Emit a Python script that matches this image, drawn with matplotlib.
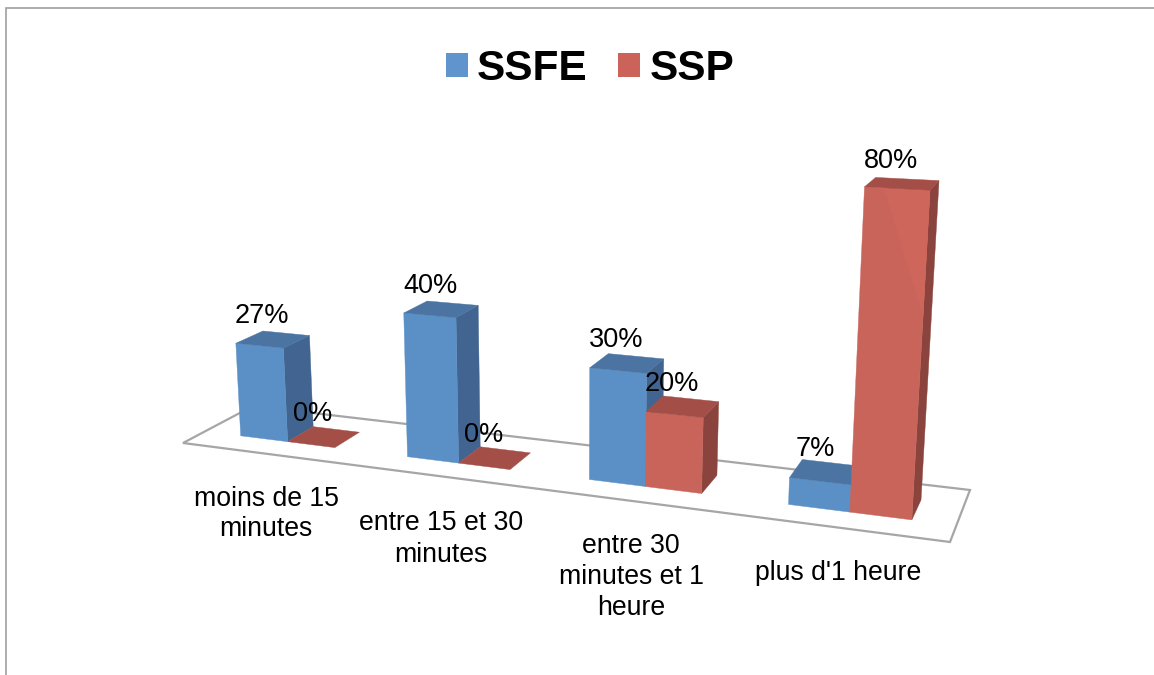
import numpy as np, matplotlib
matplotlib.use('Agg')
import matplotlib.pyplot as plt
from matplotlib.patches import Polygon, Patch
plt.rcParams['font.family'] = ['Liberation Sans', 'DejaVu Sans']

categories = ["moins de 15\nminutes", "entre 15 et 30\nminutes", "entre 30\nminutes et 1\nheure", "plus d'1 heure"]
ssfe = [27, 40, 30, 7]
ssp = [0, 0, 20, 80]
series_names = ["SSFE", "SSP"]

# camera: (category axis, depth, percent, 1) -> pixels
CAM = np.array([[151.794849, 88.8302022, -0.309803771, 183.0],
                [1.95453496, -6.78236321, -3.65736211, 443.0],
                [-0.0420580536, 0.0744276768, -0.000543630833, 1.0]])
U0, U1, U2 = 0.225, 0.515, 0.80   # bar edges within a category
V0, V1 = 0.30, 0.69               # bar depth on the floor
LABEL_POS = [(266, 514), (441, 539), (631, 577), (838, 573)]
VALUE_OFFSET = (-11, -23)

COL = {"SSFE": ("#5B90C7", "#416490", "#4C74A2"),
       "SSP": ("#C9645B", "#8B443D", "#A34F48")}
LEGEND_COL = {"SSFE": "#5F94CC", "SSP": "#CB635B"}


def project(u, v, h):
    q = CAM @ np.array([u, v, h, 1.0])
    return q[0] / q[2], q[1] / q[2]


fig = plt.figure(figsize=(11.54, 6.75), dpi=100)
ax = fig.add_axes([0, 0, 1, 1])
ax.set_xlim(0, 1154)
ax.set_ylim(675, 0)
ax.axis('off')

# chart frame (only top and left are visible)
ax.plot([5.5, 5.5, 1154], [675, 8, 8], color="#A0A0A0", lw=1.2, solid_joinstyle='miter')

# floor
floor = [project(0, 0, 0), project(4, 0, 0), project(4, 1, 0), project(0, 1, 0)]
ax.add_patch(Polygon(floor, closed=True, fc='white', ec='#A6A6A6', lw=1.6, joinstyle='miter', zorder=1))


def poly(pts, color, z):
    ax.add_patch(Polygon(pts, closed=True, fc=color, ec=color, lw=0.3, zorder=z))


z = 2
labels = []
for i in range(len(categories)):
    for name, vals, a, b in (("SSFE", ssfe, U0, U1), ("SSP", ssp, U1, U2)):
        h = vals[i]
        ua, ub = i + a, i + b
        front, side, top = COL[name]
        if h > 0:
            poly([project(ub, V0, 0), project(ub, V1, 0), project(ub, V1, h), project(ub, V0, h)], side, z)
            poly([project(ua, V0, 0), project(ub, V0, 0), project(ub, V0, h), project(ua, V0, h)], front, z + 0.1)
            if h == max(ssp):
                poly([project(ua + 0.3 * (ub - ua), V0, h), project(ub, V0, h), project(ub, V0, 0.63 * h)], "#CF665C", z + 0.15)
        poly([project(ua, V0, h), project(ub, V0, h), project(ub, V1, h), project(ua, V1, h)], top, z + 0.2)
        cx, cy = project((ua + ub) / 2, (V0 + V1) / 2, h)
        labels.append((cx + VALUE_OFFSET[0], cy + VALUE_OFFSET[1], f"{h}%"))
        z += 1

for x, y, s in labels:
    ax.text(x, y, s, ha='center', va='center', fontsize=19.5, color='black', zorder=50)

for (x, y), s in zip(LABEL_POS, categories):
    ax.text(x, y, s, ha='center', va='center', fontsize=19.2, color='black', linespacing=1.25, zorder=50)

handles = [Patch(fc=LEGEND_COL[n], ec='none', label=n) for n in series_names]
ax.legend(handles=handles, loc='center', bbox_to_anchor=(590, 69), bbox_transform=ax.transData,
          ncol=2, frameon=False, prop={'weight': 'bold', 'size': 30.5},
          handlelength=0.52, handleheight=0.52, handletextpad=0.22, columnspacing=0.72,
          borderpad=0, borderaxespad=0)

fig.savefig('out.png', dpi=100)
